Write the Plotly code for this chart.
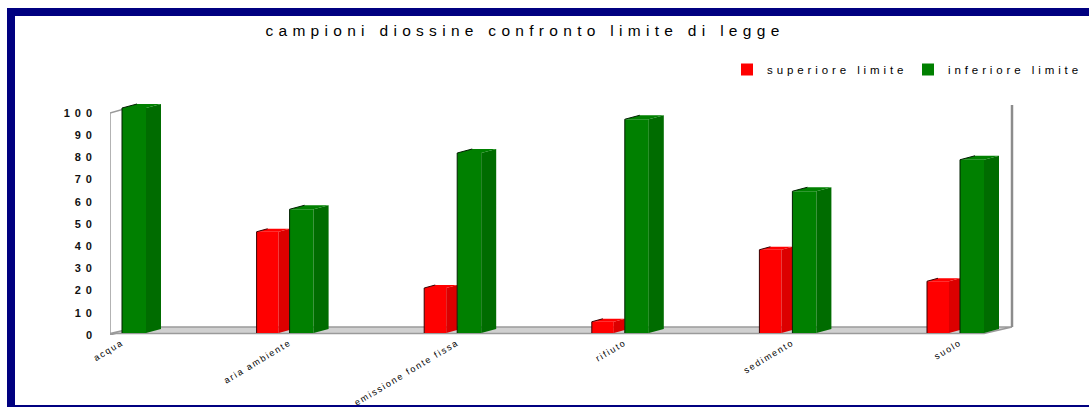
import plotly.graph_objects as go

# ---- data -------------------------------------------------------------
categories = ["acqua", "aria ambiente", "emissione fonte fissa", "rifiuto", "sedimento", "suolo"]
superiore = [0, 45, 20, 5, 37, 23]
inferiore = [100, 55, 80, 95, 63, 77]
series_names = ["superiore limite", "inferiore limite"]
y_ticks = [0, 10, 20, 30, 40, 50, 60, 70, 80, 90, 100]
title_text = "campioni diossine confronto limite di legge"

# ---- geometry (pixels) --------------------------------------------------
W, H = 1089, 407
PX_L, PX_R = 110, 1030      # plot area left / right
PX_T, PX_B = 100, 335       # plot area top / bottom
X0_PX = 122                 # pixel of the first category tick
CAT_STEP = 167.6            # pixels between categories
# value axis of the back wall (tick labels, walls, floor)
WALL_ZERO_PX, WALL_PX_PER_Y = 335, 2.22
# value axis of the bar front plane (slightly closer, slightly larger)
BAR_ZERO_PX, BAR_PX_PER_Y = 333, 2.25

x_range = [(PX_L - X0_PX) / CAT_STEP, (PX_R - X0_PX) / CAT_STEP]
y_wall_range = [(WALL_ZERO_PX - PX_B) / WALL_PX_PER_Y, (WALL_ZERO_PX - PX_T) / WALL_PX_PER_Y]
y_bar_range = [(BAR_ZERO_PX - PX_B) / BAR_PX_PER_Y, (BAR_ZERO_PX - PX_T) / BAR_PX_PER_Y]


def dxu(px):
    return px / CAT_STEP


def dyu(px, scale=BAR_PX_PER_Y):
    return px / scale


def spaced(text, px):
    return f'<span style="letter-spacing:{px}px">{text}</span>'


# bar styling: front-left offset, front width, side depth, side rise (pixels)
bar_style = {
    "superiore limite": dict(off=-33, w=22, dx=11, dy=3,
                             front="#ff0000", side="#dc0000", edge="#3a0000"),
    "inferiore limite": dict(off=0, w=24, dx=15, dy=4,
                             front="#008000", side="#006c00", edge="#002000"),
}

fig = go.Figure()

for name, values in zip(series_names, [superiore, inferiore]):
    st = bar_style[name]
    off, w, dx, dy = dxu(st["off"]), dxu(st["w"]), dxu(st["dx"]), dyu(st["dy"])

    # front faces
    fig.add_trace(go.Bar(
        x=list(range(len(categories))), y=values, name=spaced(name, 3.9),
        offset=off, width=w, marker=dict(color=st["front"], line=dict(width=0)),
        hoverinfo="skip",
    ))

    side_x, side_y, top_x, top_y, edge_x, edge_y = [], [], [], [], [], []
    for i, v in enumerate(values):
        if v <= 0:
            continue
        l = i + off
        r = l + w
        side_x += [r, r + dx, r + dx, r, r, None]
        side_y += [0, dy, v + dy, v, 0, None]
        top_x += [l, r, r + dx, l + dx, l, None]
        top_y += [v, v, v + dy, v + dy, v, None]
        edge_x += [l, l, l + dx, None]
        edge_y += [0, v, v + dy, None]

    fig.add_trace(go.Scatter(x=side_x, y=side_y, mode="lines", fill="toself",
                             fillcolor=st["side"], line=dict(width=0),
                             showlegend=False, hoverinfo="skip"))
    fig.add_trace(go.Scatter(x=top_x, y=top_y, mode="lines", fill="toself",
                             fillcolor=st["front"], line=dict(width=0),
                             showlegend=False, hoverinfo="skip"))
    fig.add_trace(go.Scatter(x=edge_x, y=edge_y, mode="lines",
                             line=dict(width=1, color=st["edge"]),
                             showlegend=False, hoverinfo="skip"))

# ---- 3D box: floor, left wall, right wall edge (back-wall value axis) ----
BOX_DX, BOX_DY = dxu(28), dyu(8, WALL_PX_PER_Y)
xl = x_range[0]
xr_front = dxu(984 - X0_PX)
ymax = y_ticks[-1]
floor_lift = dyu(1.5, WALL_PX_PER_Y)

floor_path = (f"M{xl},{floor_lift} L{xr_front},{floor_lift} L{xr_front + BOX_DX},{BOX_DY} "
              f"L{xl + BOX_DX},{BOX_DY} Z")
wall_path = (f"M{xl},0 L{xl},{ymax} L{xl + BOX_DX},{ymax + BOX_DY} "
             f"L{xl + BOX_DX},{BOX_DY} Z")

shapes = [
    dict(type="path", path=wall_path, xref="x", yref="y2", layer="below",
         fillcolor="#ffffff", line=dict(color="#9a9a9a", width=1.5)),
    dict(type="path", path=floor_path, xref="x", yref="y2", layer="below",
         fillcolor="#d0d0d0", line=dict(color="#9a9a9a", width=1.5)),
    dict(type="line", xref="x", yref="y2", layer="below",
         x0=xr_front + BOX_DX, x1=xr_front + BOX_DX, y0=BOX_DY, y1=ymax + BOX_DY,
         line=dict(color="#8c8c8c", width=2.5)),
]

# navy frame around the chart
NAVY = "#000080"
shapes += [
    dict(type="rect", xref="paper", yref="paper", x0=7 / W, x1=1, y0=1 - 16 / H, y1=1 - 8 / H,
         fillcolor=NAVY, line=dict(width=0), layer="above"),
    dict(type="rect", xref="paper", yref="paper", x0=7 / W, x1=15 / W, y0=0, y1=1 - 8 / H,
         fillcolor=NAVY, line=dict(width=0), layer="above"),
    dict(type="rect", xref="paper", yref="paper", x0=7 / W, x1=1, y0=0, y1=2 / H,
         fillcolor=NAVY, line=dict(width=0), layer="above"),
]

FONT = "Liberation Sans, Arial, sans-serif"
y_domain = [(H - PX_B) / H, (H - PX_T) / H]

fig.update_layout(
    width=W, height=H,
    margin=dict(l=0, r=0, t=0, b=0, autoexpand=False),
    paper_bgcolor="#ffffff", plot_bgcolor="rgba(0,0,0,0)",
    barmode="overlay",
    shapes=shapes,
    title=dict(text=spaced(title_text, 5.3), x=525 / W, xanchor="center",
               y=1 - 31 / H, yanchor="middle", automargin=False,
               font=dict(family=FONT, size=15.5, color="#000000")),
    legend=dict(orientation="h", x=727 / W, xanchor="left", y=1 - 55 / H, yanchor="top",
                entrywidth=136, entrywidthmode="pixels",
                font=dict(family=FONT, size=11.5, color="#000000"),
                bgcolor="rgba(0,0,0,0)", itemclick=False, itemdoubleclick=False),
    xaxis=dict(domain=[PX_L / W, PX_R / W], range=x_range, showgrid=False,
               zeroline=False, showline=False, ticks="", automargin=False,
               tickvals=list(range(len(categories))),
               ticktext=[spaced(c, 1.7) for c in categories],
               tickangle=-31, tickfont=dict(family=FONT, size=9, color="#000000")),
    # bar plane
    yaxis=dict(domain=y_domain, range=y_bar_range, showgrid=False,
               zeroline=False, showline=False, ticks="", showticklabels=False,
               automargin=False),
    # back-wall value axis carrying the tick labels
    yaxis2=dict(overlaying="y", anchor="x", side="left", range=y_wall_range,
                showgrid=False, zeroline=False, showline=False, ticks="", automargin=False,
                tickvals=y_ticks, ticktext=[spaced(str(t), 5) for t in y_ticks],
                ticklabelstandoff=12,
                tickfont=dict(family=FONT, size=11, color="#111111", weight="bold")),
    showlegend=True,
)

fig.write_html("out.html", config={"displayModeBar": False})
